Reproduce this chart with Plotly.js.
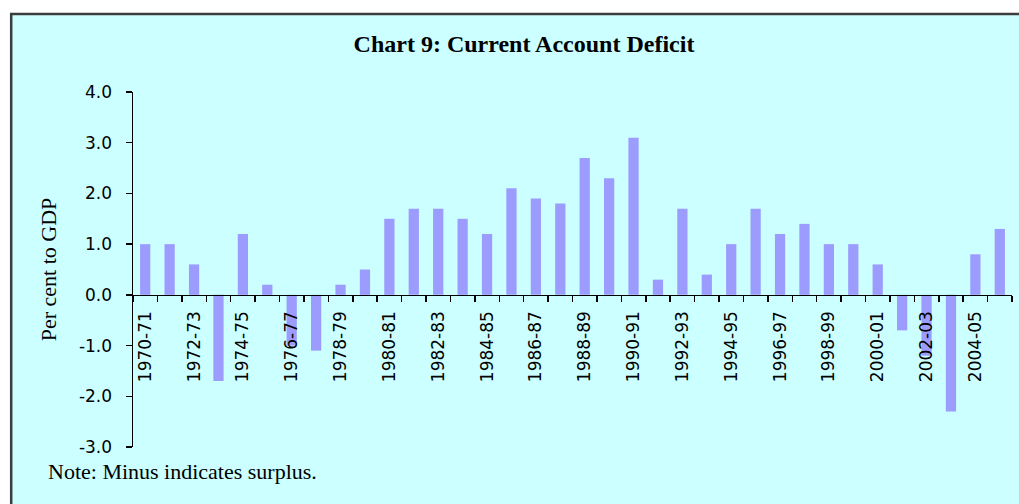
<!DOCTYPE html>
<html>
<head>
<meta charset="utf-8">
<script src="https://cdn.plot.ly/plotly-3.0.1.min.js"></script>
<style>html,body{margin:0;padding:0;background:#fff;}#chart{width:1019px;height:504px;}</style>
</head>
<body>
<div id="chart"></div>
<script>
const years = ["1970-71","1971-72","1972-73","1973-74","1974-75","1975-76","1976-77","1977-78","1978-79","1979-80",
  "1980-81","1981-82","1982-83","1983-84","1984-85","1985-86","1986-87","1987-88","1988-89","1989-90",
  "1990-91","1991-92","1992-93","1993-94","1994-95","1995-96","1996-97","1997-98","1998-99","1999-00",
  "2000-01","2001-02","2002-03","2003-04","2004-05","2005-06"];
const deficit = [1.0,1.0,0.6,-1.7,1.2,0.2,-1.0,-1.1,0.2,0.5,
  1.5,1.7,1.7,1.5,1.2,2.1,1.9,1.8,2.7,2.3,
  3.1,0.3,1.7,0.4,1.0,1.7,1.2,1.4,1.0,1.0,
  0.6,-0.7,-1.2,-2.3,0.8,1.3];
const tickLabels = years.map((y, i) => (i % 2 === 0 && i < 35) ? y : "");
const yTicks = [-3, -2, -1, 0, 1, 2, 3, 4];
const yTickText = ["-3.0", "-2.0", "-1.0", "0.0", "1.0", "2.0", "3.0", "4.0"];

const L = 133, R = 1012, T = 92, B = 447;
const W = R - L, H = B - T;
const px = v => (v - L) / W;
const py = v => (B - v) / H;

const data = [{
  type: "bar",
  x: years,
  y: deficit,
  marker: {color: "#9c9cff", line: {width: 0}},
  hoverinfo: "x+y"
}];

const layout = {
  width: 1019, height: 504,
  margin: {l: L, r: 1019 - R, t: T, b: 504 - B, pad: 0},
  paper_bgcolor: "#ffffff",
  plot_bgcolor: "rgba(0,0,0,0)",
  bargap: 0.58,
  showlegend: false,
  title: {
    text: "<b>Chart 9: Current Account Deficit</b>",
    font: {family: "Liberation Serif, Times New Roman, serif", size: 24, color: "#000"},
    x: 524 / 1019, xref: "container", xanchor: "center",
    y: 1 - 44 / 504, yref: "container", yanchor: "middle"
  },
  xaxis: {
    type: "category",
    anchor: "free",
    position: 3 / 7,
    tickmode: "array",
    tickvals: years,
    ticktext: tickLabels,
    tickson: "boundaries",
    ticks: "outside",
    ticklen: 6,
    tickwidth: 1.5,
    tickcolor: "#000",
    tickangle: -90,
    tickfont: {family: "DejaVu Sans, Verdana, sans-serif", size: 17, color: "#000"},
    ticklabelstandoff: 8,
    showline: true,
    linecolor: "#000",
    linewidth: 1.5,
    showgrid: false,
    zeroline: false,
    fixedrange: true
  },
  yaxis: {
    range: [-3, 4],
    tickmode: "array",
    tickvals: yTicks,
    ticktext: yTickText,
    ticks: "outside",
    ticklen: 6,
    tickwidth: 1.5,
    tickcolor: "#000",
    tickfont: {family: "DejaVu Sans, Verdana, sans-serif", size: 17, color: "#000"},
    ticklabelstandoff: 10,
    showline: true,
    linecolor: "#000",
    linewidth: 1.5,
    showgrid: false,
    zeroline: false,
    automargin: false,
    fixedrange: true,
    title: {
      text: "Per cent to GDP",
      font: {family: "Liberation Serif, Times New Roman, serif", size: 22, color: "#000"},
      standoff: 16
    }
  },
  shapes: [{
    type: "rect", xref: "paper", yref: "paper", layer: "below",
    x0: px(11.2), x1: px(1040), y0: py(14), y1: py(530),
    fillcolor: "#ccffff",
    line: {color: "#3c3c3c", width: 2.5}
  }],
  annotations: [{
    text: "Note: Minus indicates surplus.",
    xref: "paper", yref: "paper",
    x: px(46), y: py(472),
    xanchor: "left", yanchor: "middle",
    showarrow: false,
    font: {family: "Liberation Serif, Times New Roman, serif", size: 22, color: "#000"}
  }]
};

Plotly.newPlot("chart", data, layout, {displayModeBar: false, staticPlot: true});
</script>
</body>
</html>
